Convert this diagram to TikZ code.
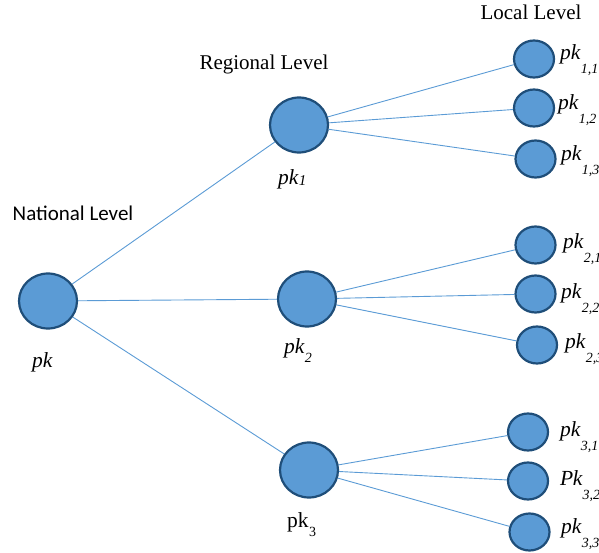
\documentclass[tikz,border=0pt]{standalone}
\usepackage{fontspec}
\setmainfont{Liberation Serif}
\newfontfamily\calibfont{Carlito}
\usetikzlibrary{shapes.geometric}
\definecolor{nodefill}{HTML}{5B9BD5}
\definecolor{nodeedge}{HTML}{1F4E79}
\definecolor{linkc}{HTML}{5B9BD5}
\newcommand\pksub[2]{\itshape pk\kern0.3pt\raisebox{-#2}{\fontsize{14}{14}\selectfont #1}}
\begin{document}
\begin{tikzpicture}[x=1pt,y=-1pt,
  bignode/.style={ellipse, draw=nodeedge, fill=nodefill, line width=2.2pt, minimum width=58pt, minimum height=55pt, inner sep=0pt},
  smallnode/.style={ellipse, draw=nodeedge, fill=nodefill, line width=2.2pt, minimum width=40pt, minimum height=37pt, inner sep=0pt},
  link/.style={draw=linkc, line width=0.9pt},
  lab/.style={font=\fontsize{21.5}{23}\selectfont, inner sep=0pt, anchor=base west},
  head/.style={font=\fontsize{21}{23}\selectfont, inner sep=0pt, anchor=base}]
\useasboundingbox (0,0) rectangle (599,553);
\clip (0,0) rectangle (599,553);
% nodes
\node[bignode] (n) at (48,301) {};
\node[bignode] (n1) at (299,125) {};
\node[bignode] (n2) at (307,299) {};
\node[bignode] (n3) at (309,470) {};
\node[smallnode] (n11) at (534,59) {};
\node[smallnode] (n12) at (534,108) {};
\node[smallnode] (n13) at (535.5,159) {};
\node[smallnode] (n21) at (535.5,245) {};
\node[smallnode] (n22) at (535.5,294) {};
\node[smallnode] (n23) at (537,345) {};
\node[smallnode] (n31) at (528,432) {};
\node[smallnode] (n32) at (528,481) {};
\node[smallnode] (n33) at (529.5,532) {};
% links
\foreach \a/\b in {n/n1,n/n2,n/n3,n1/n11,n1/n12,n1/n13,n2/n21,n2/n22,n2/n23,n3/n31,n3/n32,n3/n33}
  \draw[link] (\a) -- (\b);
% headings
\node[head] (hl) at (531,20) {Local Level};
\node[head] (hr) at (264,70) {Regional Level};
\node[head, font=\calibfont\fontsize{21}{23}\selectfont] (hn) at (73,221) {National Level};
% labels
\node[lab] (ln) at (32,367) {\itshape pk};
\node[lab] (ln1) at (278,185) {\itshape pk\kern0.5pt\raisebox{-1pt}{\fontsize{15}{15}\selectfont 1}};
\node[lab] (ln2) at (284,353) {\pksub{2}{9pt}};
\node[lab] (ln3) at (287,527) {pk\kern0.5pt\raisebox{-9pt}{\fontsize{14}{14}\selectfont 3}};
\node[lab] (l11) at (560,60) {\pksub{1,1}{14pt}};
\node[lab] (l12) at (558,110) {\pksub{1,2}{14pt}};
\node[lab] (l13) at (561,161) {\pksub{1,3}{14pt}};
\node[lab] (l21) at (563,248) {\pksub{2,1}{14pt}};
\node[lab] (l22) at (561,298) {\pksub{2,2}{14pt}};
\node[lab] (l23) at (565,348) {\pksub{2,3}{14pt}};
\node[lab] (l31) at (560,436) {\pksub{3,1}{14pt}};
\node[lab] (l32) at (560,485) {\itshape P\kern-0.5pt k\kern0.3pt\raisebox{-14pt}{\fontsize{14}{14}\selectfont 3,2}};
\node[lab] (l33) at (561,533) {\pksub{3,3}{14pt}};
\end{tikzpicture}
\end{document}
